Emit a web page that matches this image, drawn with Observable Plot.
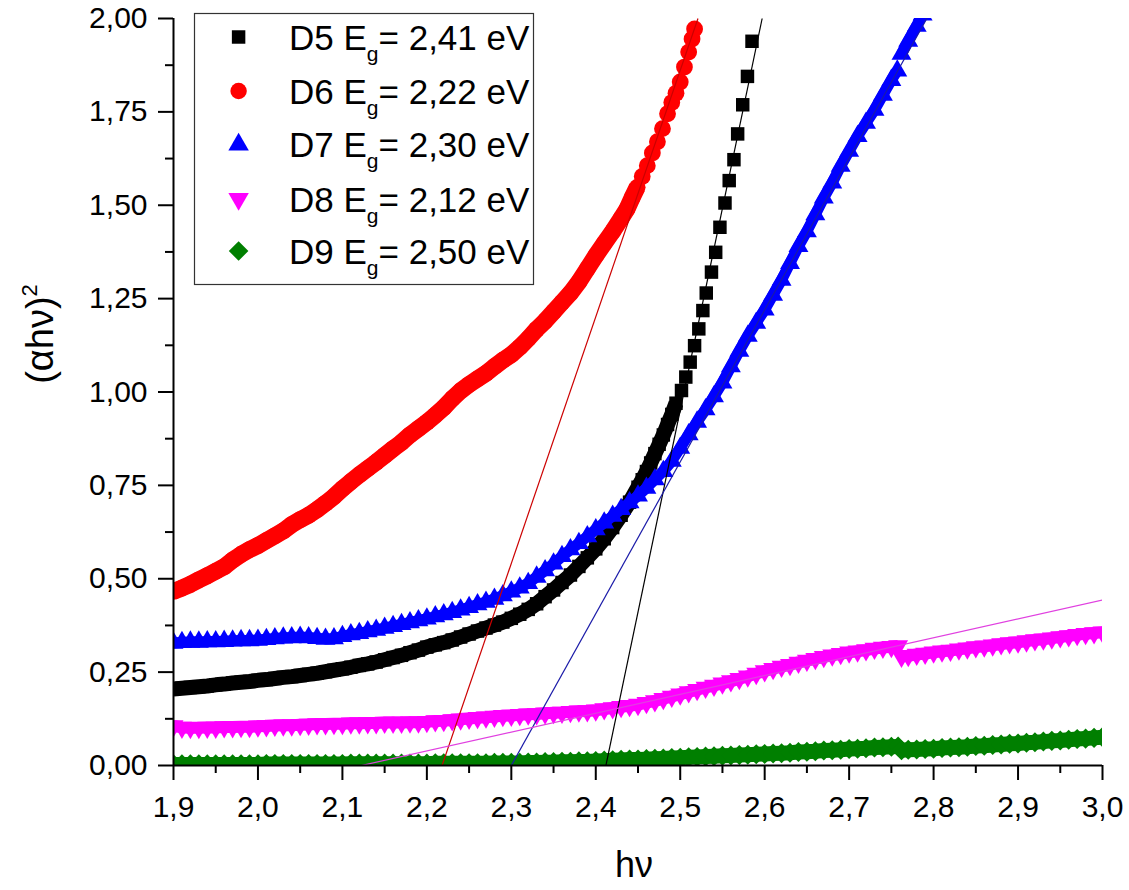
<!DOCTYPE html>
<html>
<head>
<meta charset="utf-8">
<script src="https://cdn.jsdelivr.net/npm/d3@7"></script>
<script src="https://cdn.jsdelivr.net/npm/@observablehq/plot@0.6"></script>
<style>
  html, body { margin: 0; padding: 0; background: #fff; }
  #chart { width: 1129px; height: 890px; }
</style>
</head>
<body>
<div id="chart"></div>
<script>
// ---------------- DATA ----------------
const xTicks = [1.9, 2.0, 2.1, 2.2, 2.3, 2.4, 2.5, 2.6, 2.7, 2.8, 2.9, 3.0];
const xMinorTicks = [1.95, 2.05, 2.15, 2.25, 2.35, 2.45, 2.55, 2.65, 2.75, 2.85, 2.95];
const yTicks = [0, 0.25, 0.5, 0.75, 1.0, 1.25, 1.5, 1.75, 2.0];
const yMinorTicks = [0.125, 0.375, 0.625, 0.875, 1.125, 1.375, 1.625, 1.875];

const seriesNames = ["D5", "D6", "D7", "D8", "D9"];
const seriesGap = ["2,41", "2,22", "2,30", "2,12", "2,50"];
const seriesColors = ["#000000", "#ff0000", "#0000ff", "#ff00ff", "#007f00"];

// D5 (black squares)
const d5Hv = [1.90,1.91,1.92,1.93,1.94,1.95,1.96,1.97,1.98,1.99,2.00,2.01,2.02,2.03,2.04,2.05,2.06,2.07,2.08,2.09,
  2.10,2.11,2.12,2.13,2.14,2.15,2.16,2.17,2.18,2.19,2.20,2.21,2.22,2.23,2.24,2.25,2.26,2.27,2.28,2.29,
  2.30,2.31,2.32,2.33,2.34,2.35,2.36,2.37,2.38,2.39,2.40,2.41,2.42,2.43,2.44,2.45,
  2.455,2.46,2.465,2.47,2.475,2.48,2.485,2.49,2.495,2.5015,2.5066,2.5118,2.517,2.522,2.5268,2.5308,
  2.537,2.542,2.547,2.553,2.558,2.5636,2.568,2.574,2.5796,2.585];
const d5Val = [0.205,0.207,0.209,0.211,0.213,0.216,0.218,0.221,0.223,0.225,0.228,0.230,0.233,0.236,0.238,0.241,0.244,0.247,0.251,0.255,
  0.259,0.263,0.268,0.272,0.277,0.283,0.289,0.295,0.302,0.309,0.317,0.323,0.329,0.336,0.344,0.352,0.360,0.368,0.376,0.384,
  0.394,0.405,0.418,0.433,0.452,0.470,0.490,0.510,0.533,0.556,0.580,0.607,0.637,0.670,0.705,0.745,
  0.765,0.787,0.810,0.835,0.860,0.885,0.913,0.940,0.970,1.004,1.040,1.080,1.124,1.169,1.218,1.265,
  1.321,1.374,1.441,1.506,1.566,1.622,1.691,1.769,1.845,1.939];

// D6 (red circles)
const d6Hv = [1.90,1.91,1.92,1.93,1.94,1.95,1.96,1.97,1.98,1.99,2.00,2.01,2.02,2.03,2.04,2.05,2.06,2.07,2.08,2.09,
  2.10,2.11,2.12,2.13,2.14,2.15,2.16,2.17,2.18,2.19,2.20,2.21,2.22,2.23,2.24,2.25,2.26,2.27,2.28,2.29,
  2.30,2.31,2.32,2.33,2.34,2.35,2.36,2.37,2.38,2.39,2.40,2.41,2.42,2.43,
  2.437,2.443,2.449,2.455,2.461,2.467,2.473,2.479,2.485,2.490,2.495,2.500,2.505,2.510,2.514,2.517];
const d6Val = [0.466,0.475,0.485,0.497,0.508,0.520,0.532,0.550,0.565,0.578,0.589,0.602,0.615,0.628,0.645,0.658,0.670,0.685,0.702,0.720,
  0.741,0.760,0.778,0.795,0.812,0.830,0.848,0.865,0.885,0.902,0.919,0.938,0.958,0.982,1.003,1.020,1.035,1.050,1.068,1.085,
  1.100,1.120,1.143,1.168,1.190,1.215,1.240,1.265,1.295,1.330,1.365,1.398,1.430,1.465,
  1.490,1.520,1.548,1.577,1.606,1.640,1.670,1.705,1.745,1.775,1.800,1.830,1.870,1.910,1.945,1.972];

// D7 (blue triangles)
const d7Hv = [1.90,1.91,1.92,1.93,1.94,1.95,1.96,1.97,1.98,1.99,2.00,2.01,2.02,2.03,2.04,2.05,2.06,2.07,2.08,2.09,
  2.10,2.11,2.12,2.13,2.14,2.15,2.16,2.17,2.18,2.19,2.20,2.21,2.22,2.23,2.24,2.25,2.26,2.27,2.28,2.29,
  2.30,2.31,2.32,2.33,2.34,2.35,2.36,2.37,2.38,2.39,2.40,2.41,2.42,2.43,2.44,2.45,2.46,2.47,2.48,2.49,
  2.50,2.51,2.52,2.53,2.54,2.55,2.56,2.57,2.58,2.59,2.60,2.61,2.62,2.63,2.64,2.65,2.66,2.67,2.68,2.69,
  2.70,2.71,2.72,2.73,2.74,2.75,2.757,2.762,2.77,2.78,2.787];
const d7Val = [0.328,0.330,0.331,0.331,0.332,0.332,0.333,0.334,0.335,0.335,0.336,0.338,0.340,0.342,0.343,0.344,0.343,0.341,0.339,0.340,
  0.346,0.351,0.354,0.359,0.363,0.368,0.373,0.378,0.383,0.388,0.393,0.399,0.404,0.410,0.417,0.424,0.431,0.438,0.446,0.455,
  0.465,0.476,0.488,0.505,0.522,0.540,0.560,0.578,0.595,0.613,0.632,0.650,0.668,0.686,0.704,0.722,0.743,0.766,0.788,0.815,
  0.850,0.886,0.920,0.953,0.988,1.025,1.068,1.110,1.150,1.185,1.220,1.260,1.300,1.345,1.390,1.430,1.475,1.520,1.560,1.605,
  1.645,1.685,1.720,1.755,1.795,1.835,1.860,1.905,1.940,1.980,2.010];

// D8 and D9 share one hv grid
const wideHv = [1.90,1.91,1.92,1.93,1.94,1.95,1.96,1.97,1.98,1.99,2.00,2.01,2.02,2.03,2.04,2.05,2.06,2.07,2.08,2.09,
  2.10,2.11,2.12,2.13,2.14,2.15,2.16,2.17,2.18,2.19,2.20,2.21,2.22,2.23,2.24,2.25,2.26,2.27,2.28,2.29,
  2.30,2.31,2.32,2.33,2.34,2.35,2.36,2.37,2.38,2.39,2.40,2.41,2.42,2.43,2.44,2.45,2.46,2.47,2.48,2.49,
  2.50,2.51,2.52,2.53,2.54,2.55,2.56,2.57,2.58,2.59,2.60,2.61,2.62,2.63,2.64,2.65,2.66,2.67,2.68,2.69,
  2.70,2.71,2.72,2.73,2.74,2.75,2.758,2.762,2.77,2.78,2.79,2.80,2.81,2.82,2.83,2.84,2.85,2.86,2.87,2.88,2.89,
  2.90,2.91,2.92,2.93,2.94,2.95,2.96,2.97,2.98,2.99,3.00];
// D8 (magenta down-triangles)
const d8Val = [0.106,0.102,0.101,0.101,0.102,0.102,0.103,0.103,0.104,0.104,0.105,0.106,0.107,0.108,0.108,0.109,0.110,0.111,0.111,0.112,
  0.112,0.113,0.113,0.114,0.114,0.115,0.115,0.115,0.116,0.116,0.117,0.119,0.120,0.122,0.124,0.126,0.128,0.129,0.131,0.133,
  0.134,0.136,0.137,0.138,0.140,0.141,0.142,0.144,0.145,0.146,0.148,0.151,0.154,0.157,0.160,0.163,0.168,0.173,0.179,0.185,
  0.191,0.197,0.203,0.209,0.214,0.220,0.226,0.232,0.239,0.246,0.253,0.259,0.265,0.270,0.276,0.281,0.286,0.291,0.295,0.299,
  0.303,0.306,0.309,0.313,0.316,0.318,0.320,0.292,0.294,0.297,0.300,0.303,0.306,0.308,0.311,0.314,0.317,0.319,0.322,0.325,0.328,
  0.330,0.333,0.336,0.338,0.341,0.344,0.347,0.350,0.353,0.355,0.357];
// D9 (green diamonds)
const d9Val = [0.003,0.003,0.003,0.003,0.003,0.003,0.003,0.003,0.003,0.003,0.003,0.004,0.004,0.004,0.004,0.004,0.004,0.004,0.004,0.004,
  0.004,0.005,0.005,0.005,0.005,0.005,0.005,0.005,0.005,0.005,0.005,0.006,0.006,0.006,0.006,0.006,0.006,0.006,0.007,0.007,
  0.007,0.007,0.008,0.008,0.009,0.009,0.010,0.010,0.011,0.011,0.012,0.013,0.014,0.015,0.016,0.016,0.017,0.018,0.019,0.020,
  0.021,0.022,0.023,0.024,0.025,0.026,0.027,0.028,0.029,0.030,0.031,0.032,0.033,0.034,0.036,0.037,0.038,0.040,0.041,0.042,
  0.044,0.045,0.046,0.048,0.049,0.050,0.051,0.041,0.042,0.043,0.044,0.045,0.047,0.048,0.049,0.050,0.052,0.053,0.055,0.056,0.058,
  0.059,0.061,0.062,0.064,0.066,0.067,0.069,0.071,0.072,0.074,0.076];

// Linear fits (tangent lines) for D5, D6, D7, D8
const fitColors = ["#000000", "#cc0000", "#1a1aa8", "#e040e0"];
const fitStartHv = [2.412, 2.218, 2.300, 2.1225];
const fitStartVal = [0, 0, 0, 0];
const fitEndHv = [2.597, 2.521, 2.792, 3.0];
const fitEndVal = [2.0, 2.0, 2.0, 0.443];

// ---------------- BUILD ----------------
const rows = (xs, ys) => xs.map((x, i) => ({hv: x, v: ys[i], seg: x < 2.76 ? "a" : "b"}));
const fits = fitStartHv.map((x, i) => ({x1: x, y1: fitStartVal[i], x2: fitEndHv[i], y2: fitEndVal[i], c: fitColors[i]}));

const d5 = rows(d5Hv, d5Val), d6 = rows(d6Hv, d6Val), d7 = rows(d7Hv, d7Val);
const d8 = rows(wideHv, d8Val), d9 = rows(wideHv, d9Val);

// where the overlapping markers merge into a solid band (styling only)
const bandEnd = [2.495, 2.45, 2.80, 3.01, 3.01];
const bandWidth = [15, 17, 11, 12, 15];
const band = (data, i) => Plot.line(data.filter(d => d.hv <= bandEnd[i]), {
  x: "hv", y: "v", z: "seg", stroke: seriesColors[i], strokeWidth: bandWidth[i],
  strokeLinejoin: "round", strokeLinecap: "butt", clip: true
});

const loc = d3.formatLocale({decimal: ",", thousands: ".", grouping: [3], currency: ["", ""]});
const fmtX = loc.format(".1f");
const fmtY = loc.format(".2f");
const FONT = "'Liberation Sans', Arial, Helvetica, sans-serif";

const plot = Plot.plot({
  width: 1129,
  height: 890,
  marginLeft: 173,
  marginRight: 27,
  marginTop: 18,
  marginBottom: 125,
  style: {fontFamily: FONT, fontSize: "30px", color: "#000", background: "#fff", overflow: "visible"},
  x: {domain: [1.9, 3.0]},
  y: {domain: [0, 2]},
  marks: [
    band(d5, 0),
    Plot.dot(d5, {x: "hv", y: "v", symbol: "square", r: 7.6, fill: seriesColors[0], clip: true}),
    band(d6, 1),
    Plot.dot(d6, {x: "hv", y: "v", symbol: "circle", r: 8.4, fill: seriesColors[1], clip: true}),
    band(d7, 2),
    Plot.dot(d7, {x: "hv", y: "v", symbol: "triangle", r: 7.4, fill: seriesColors[2], clip: true}),
    band(d8, 3),
    Plot.dot(d8, {x: "hv", y: "v", symbol: "triangle", rotate: 180, r: 7.4, fill: seriesColors[3], clip: true}),
    band(d9, 4),
    Plot.dot(d9, {x: "hv", y: "v", symbol: "square", rotate: 45, r: 8, fill: seriesColors[4], clip: true}),
    Plot.link(fits, {x1: "x1", y1: "y1", x2: "x2", y2: "y2", stroke: "c", strokeWidth: 1.2, clip: true}),
    Plot.axisX({ticks: xTicks, tickFormat: fmtX, tickSize: 15, tickPadding: 15, strokeWidth: 2, label: null, fontSize: 30}),
    Plot.axisX({ticks: xMinorTicks, tickFormat: () => "", tickSize: 8, strokeWidth: 2, label: null}),
    Plot.axisY({ticks: yTicks, tickFormat: fmtY, tickSize: 15, tickPadding: 11, strokeWidth: 2, label: null, fontSize: 30}),
    Plot.axisY({ticks: yMinorTicks, tickFormat: () => "", tickSize: 8, strokeWidth: 2, label: null}),
    Plot.ruleX([1.9], {y1: 0, y2: 2, stroke: "#000", strokeWidth: 2}),
    Plot.ruleY([0], {x1: 1.9, x2: 3.0, stroke: "#000", strokeWidth: 2})
  ]
});

document.getElementById("chart").appendChild(plot);

// ---------------- TITLES & LEGEND ----------------
const svg = d3.select(plot);

// x title
svg.append("text")
  .attr("x", 634).attr("y", 877)
  .attr("text-anchor", "middle")
  .attr("font-family", FONT).attr("font-size", 36).attr("fill", "#000")
  .text("hν");

// y title
const yt = svg.append("text")
  .attr("transform", "translate(53,334) rotate(-90)")
  .attr("text-anchor", "middle")
  .attr("font-family", FONT).attr("font-size", 38).attr("fill", "#000");
yt.append("tspan").text("(αhν)");
yt.append("tspan").attr("font-size", 22).attr("dy", -16).text("2");

// legend
const lg = svg.append("g").attr("transform", "translate(194,13)");
lg.append("rect").attr("x", 0.5).attr("y", 0.5).attr("width", 339).attr("height", 271)
  .attr("fill", "#fff").attr("stroke", "#333").attr("stroke-width", 1.2);
const legSymbols = [d3.symbolSquare, d3.symbolCircle, d3.symbolTriangle, d3.symbolTriangle, d3.symbolSquare];
const legRot = [0, 0, 0, 180, 45];
const legR = [7.6, 8.2, 7.6, 7.6, 7.8];
const rowY = [24, 78, 131.5, 186, 238];
seriesNames.forEach((name, i) => {
  const cy = rowY[i];
  lg.append("path")
    .attr("d", d3.symbol(legSymbols[i], Math.PI * legR[i] * legR[i])())
    .attr("transform", `translate(44.6,${cy}) rotate(${legRot[i]})`)
    .attr("fill", seriesColors[i]);
  const t = lg.append("text")
    .attr("x", 95).attr("y", cy + 12.5)
    .attr("text-anchor", "start")
    .attr("font-family", FONT).attr("font-size", 35).attr("fill", "#000");
  t.append("tspan").text(name + " E");
  t.append("tspan").attr("font-size", 21).attr("dy", 11).text("g");
  t.append("tspan").attr("dy", -11).text("= " + seriesGap[i] + " eV");
});
</script>
</body>
</html>
